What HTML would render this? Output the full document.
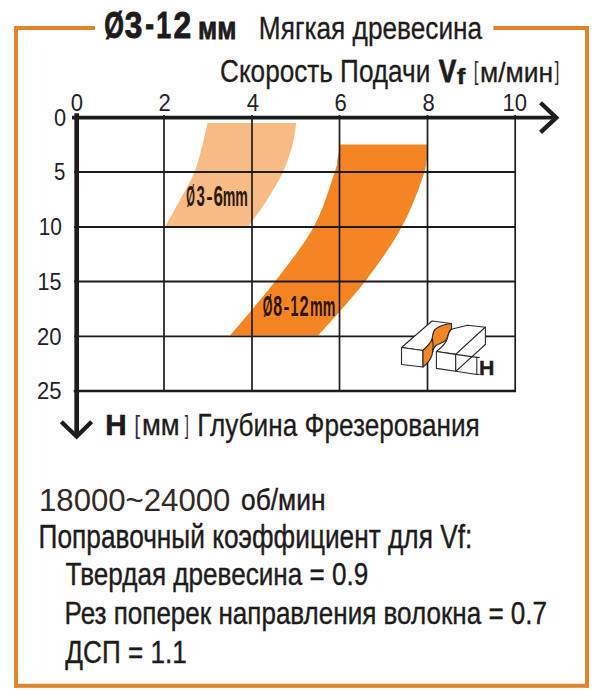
<!DOCTYPE html>
<html><head><meta charset="utf-8"><style>
html,body{margin:0;padding:0;background:#fff;}
svg{display:block;}
text{font-family:"Liberation Sans",sans-serif;}
</style></head><body>
<svg width="600" height="700" viewBox="0 0 600 700">
<rect width="600" height="700" fill="#fff"/>

<g fill="#e4832d">
<rect x="14" y="26" width="81" height="4"/>
<rect x="14" y="26" width="4" height="661.8"/>
<rect x="14" y="683.8" width="575" height="4"/>
<rect x="585" y="26" width="4" height="661.8"/>
<rect x="493.4" y="26" width="95.6" height="4"/>
</g>

<path d="M207.5,123 C206.67,126.67 204.67,136.83 202.50,145.00 C200.33,153.17 198.25,162.83 194.50,172.00 C190.75,181.17 184.83,191.00 180.00,200.00 C175.17,209.00 167.92,221.67 165.50,226.00 L248.75,226 C251.79,221.67 261.29,209.00 267.00,200.00 C272.71,191.00 278.75,181.17 283.00,172.00 C287.25,162.83 290.29,153.17 292.50,145.00 C294.71,136.83 295.62,126.67 296.25,123.00 Z" fill="#f9bb84"/>
<path d="M340.2,144.4 C339.73,147.00 338.30,155.40 337.40,160.00 C336.50,164.60 338.70,160.92 334.80,172.00 C330.90,183.08 323.97,208.25 314.00,226.50 C304.03,244.75 289.00,263.33 275.00,281.50 C261.00,299.67 237.50,326.50 230.00,335.50 L318.3,335.5 C326.08,326.50 351.05,299.67 365.00,281.50 C378.95,263.33 392.10,244.75 402.00,226.50 C411.90,208.25 420.23,185.68 424.40,172.00 C428.57,158.32 426.57,149.00 427.00,144.40 Z" fill="#f58423"/>
<line x1="164" y1="115" x2="164" y2="390.5" stroke="#1e1b1c" stroke-width="1.7"/><line x1="252" y1="115" x2="252" y2="390.5" stroke="#1e1b1c" stroke-width="1.7"/><line x1="339.5" y1="115" x2="339.5" y2="390.5" stroke="#1e1b1c" stroke-width="1.7"/><line x1="427.5" y1="115" x2="427.5" y2="390.5" stroke="#1e1b1c" stroke-width="1.7"/><line x1="515.2" y1="115" x2="515.2" y2="390.5" stroke="#1e1b1c" stroke-width="1.7"/><line x1="74" y1="172" x2="515.9" y2="172" stroke="#1e1b1c" stroke-width="1.8"/><line x1="74" y1="227" x2="515.9" y2="227" stroke="#1e1b1c" stroke-width="1.8"/><line x1="74" y1="281.5" x2="515.9" y2="281.5" stroke="#1e1b1c" stroke-width="1.8"/><line x1="74" y1="336.4" x2="515.9" y2="336.4" stroke="#1e1b1c" stroke-width="1.8"/><line x1="73.7" y1="391" x2="516" y2="391" stroke="#1e1b1c" stroke-width="2.4"/>

<line x1="72" y1="117.7" x2="556" y2="117.7" stroke="#1e1b1c" stroke-width="3.8"/>
<polyline points="540.5,102.8 556.3,117.7 540.5,132.3" fill="none" stroke="#1e1b1c" stroke-width="4.3" stroke-linecap="butt" stroke-linejoin="miter"/>
<line x1="76.7" y1="113.3" x2="76.7" y2="436" stroke="#1e1b1c" stroke-width="4.7"/>
<polyline points="61.3,421.8 76.6,436.6 91.6,421.8" fill="none" stroke="#1e1b1c" stroke-width="4.3" stroke-linecap="butt" stroke-linejoin="miter"/>


<g stroke="#2a2a2a" stroke-width="1.1" stroke-linejoin="round" fill="#fff">
 <!-- left block -->
 <path d="M401.5,347.5 L432,321 L451.5,323.5 L423,350.5 Z"/>
 <path d="M401.5,347.5 L423,350.5 L423,367 L401.5,364.5 Z"/>
 <path fill="#f58423" d="M451.5,323.5 C446,324 439,326 435,329.5 C432.5,332 432.8,336 432,339 C431,343 427,346.5 423,350.5 L423,367 C427,364 430.5,360 432,355 C433,351 433,348 436,345.5 C440,343 445,342.5 447,338.5 C448.5,335 448.5,331 451.5,328.5 Z"/>
 <path fill="none" d="M432.3,338 C433.5,343 433.3,348 432.5,352"/>
 <!-- right block -->
 <path d="M436.4,351.5 C441,348 446,344 447.5,338 C448.5,334 448.7,331 452.3,329 L467.5,325.3 L485.4,327.2 L455.7,354.4 Z"/>
 <path d="M436.4,351.5 L455.7,354.4 L455.7,371.3 L436.4,368.4 Z"/>
 <path d="M455.7,354.4 L485.4,327.2 L485.4,344.5 L455.7,371.3 Z"/>
 <path fill="none" d="M455.7,354.4 L477,357.4 M455.7,371.3 L477,374.5 M476.8,357.4 L476.8,374.5 M475.8,357.4 L479.6,357.4 M475.8,374.5 L479.6,374.5"/>
</g>

<text x="104.14" y="37.80" font-size="36" font-weight="bold" fill="#1e1b1c" stroke="#1e1b1c" stroke-width="0.9" textLength="19.67" lengthAdjust="spacingAndGlyphs">Ø</text>
<text x="124.82" y="37.80" font-size="36" font-weight="bold" fill="#1e1b1c" stroke="#1e1b1c" stroke-width="0.9" textLength="17.58" lengthAdjust="spacingAndGlyphs">3</text>
<text x="145.19" y="35.90" font-size="36" font-weight="bold" fill="#1e1b1c" stroke="#1e1b1c" stroke-width="0.9" textLength="8.79" lengthAdjust="spacingAndGlyphs">-</text>
<text x="156.34" y="37.80" font-size="36" font-weight="bold" fill="#1e1b1c" stroke="#1e1b1c" stroke-width="0.9" textLength="14.91" lengthAdjust="spacingAndGlyphs">1</text>
<text x="173.49" y="37.80" font-size="36" font-weight="bold" fill="#1e1b1c" stroke="#1e1b1c" stroke-width="0.9" textLength="17.71" lengthAdjust="spacingAndGlyphs">2</text>
<text x="198.09" y="38.80" font-size="32" font-weight="bold" fill="#1e1b1c" stroke="#1e1b1c" stroke-width="0.8" textLength="38.31" lengthAdjust="spacingAndGlyphs">мм</text>
<text x="258.85" y="38.50" font-size="31" fill="#1e1b1c" stroke="#1e1b1c" stroke-width="0.3" textLength="223.28" lengthAdjust="spacingAndGlyphs">Мягкая древесина</text>
<text x="220.04" y="82.00" font-size="31" fill="#1e1b1c" stroke="#1e1b1c" stroke-width="0.3" textLength="210.24" lengthAdjust="spacingAndGlyphs">Скорость Подачи</text>
<text x="438.74" y="81.80" font-size="31" font-weight="bold" fill="#1e1b1c" stroke="#1e1b1c" stroke-width="0.8" textLength="17.45" lengthAdjust="spacingAndGlyphs">V</text>
<text x="456.88" y="84.30" font-size="22" font-weight="bold" fill="#1e1b1c" stroke="#1e1b1c" stroke-width="0.4" textLength="8.60" lengthAdjust="spacingAndGlyphs">f</text>
<text x="473.84" y="80.40" font-size="25.6" fill="#34303a" textLength="4.59" lengthAdjust="spacingAndGlyphs">[</text>
<text x="479.99" y="81.70" font-size="27" fill="#1e1b1c" stroke="#1e1b1c" stroke-width="0.3" textLength="73.24" lengthAdjust="spacingAndGlyphs">м/мин</text>
<text x="554.84" y="80.40" font-size="25.6" fill="#34303a" textLength="4.59" lengthAdjust="spacingAndGlyphs">]</text>
<text x="70.83" y="110.90" font-size="23.2" fill="#231f2a" textLength="12.26" lengthAdjust="spacingAndGlyphs">0</text>
<text x="158.43" y="110.90" font-size="23.2" fill="#231f2a" textLength="12.26" lengthAdjust="spacingAndGlyphs">2</text>
<text x="246.74" y="110.90" font-size="23.2" fill="#231f2a" textLength="12.26" lengthAdjust="spacingAndGlyphs">4</text>
<text x="334.53" y="110.90" font-size="23.2" fill="#231f2a" textLength="12.26" lengthAdjust="spacingAndGlyphs">6</text>
<text x="422.44" y="110.90" font-size="23.2" fill="#231f2a" textLength="12.26" lengthAdjust="spacingAndGlyphs">8</text>
<text x="502.53" y="110.90" font-size="23.2" fill="#231f2a" textLength="24.52" lengthAdjust="spacingAndGlyphs">10</text>
<text x="53.93" y="125.80" font-size="23.2" fill="#231f2a" textLength="12.11" lengthAdjust="spacingAndGlyphs">0</text>
<text x="54.08" y="179.80" font-size="23.2" fill="#231f2a" textLength="11.36" lengthAdjust="spacingAndGlyphs">5</text>
<text x="38.63" y="235.00" font-size="23.2" fill="#231f2a" textLength="23.26" lengthAdjust="spacingAndGlyphs">10</text>
<text x="37.57" y="289.80" font-size="23.2" fill="#231f2a" textLength="24.04" lengthAdjust="spacingAndGlyphs">15</text>
<text x="37.10" y="345.40" font-size="23.2" fill="#231f2a" textLength="24.54" lengthAdjust="spacingAndGlyphs">20</text>
<text x="37.10" y="399.00" font-size="23.2" fill="#231f2a" textLength="24.54" lengthAdjust="spacingAndGlyphs">25</text>
<text x="105.22" y="435.00" font-size="29" font-weight="bold" fill="#1e1b1c" stroke="#1e1b1c" stroke-width="0.6" textLength="21.42" lengthAdjust="spacingAndGlyphs">H</text>
<text x="134.33" y="434.00" font-size="24.9" fill="#3b2f45" textLength="5.84" lengthAdjust="spacingAndGlyphs">[</text>
<text x="141.93" y="435.00" font-size="29" fill="#1e1b1c" stroke="#1e1b1c" stroke-width="0.3" textLength="37.70" lengthAdjust="spacingAndGlyphs">мм</text>
<text x="184.85" y="434.00" font-size="24.9" fill="#3b2f45" textLength="4.17" lengthAdjust="spacingAndGlyphs">]</text>
<text x="197.26" y="435.80" font-size="32" fill="#1e1b1c" stroke="#1e1b1c" stroke-width="0.3" textLength="282.49" lengthAdjust="spacingAndGlyphs">Глубина Фрезерования</text>
<text x="39.01" y="510.50" font-size="32" fill="#322a2a" textLength="191.40" lengthAdjust="spacingAndGlyphs">18000~24000</text>
<text x="241.05" y="510.00" font-size="29" fill="#1e1b1c" stroke="#1e1b1c" stroke-width="0.4" textLength="84.47" lengthAdjust="spacingAndGlyphs">об/мин</text>
<text x="38.60" y="548.00" font-size="32.5" fill="#1e1b1c" stroke="#1e1b1c" stroke-width="0.4" textLength="433.70" lengthAdjust="spacingAndGlyphs">Поправочный коэффициент для Vf:</text>
<text x="65.38" y="584.50" font-size="32" fill="#1e1b1c" stroke="#1e1b1c" stroke-width="0.4" textLength="302.87" lengthAdjust="spacingAndGlyphs">Твердая древесина = 0.9</text>
<text x="64.42" y="623.70" font-size="31.5" fill="#1e1b1c" stroke="#1e1b1c" stroke-width="0.4" textLength="482.62" lengthAdjust="spacingAndGlyphs">Рез поперек направления волокна = 0.7</text>
<text x="65.34" y="663.20" font-size="31.5" fill="#1e1b1c" stroke="#1e1b1c" stroke-width="0.4" textLength="121.41" lengthAdjust="spacingAndGlyphs">ДСП = 1.1</text>
<text x="186.25" y="206.20" font-size="30" font-weight="bold" fill="#2b1a10" textLength="8.67" lengthAdjust="spacingAndGlyphs">Ø</text>
<text x="196.60" y="206.20" font-size="30" font-weight="bold" fill="#2b1a10" textLength="8.34" lengthAdjust="spacingAndGlyphs">3</text>
<text x="206.33" y="204.80" font-size="24.0" font-weight="bold" fill="#2b1a10" textLength="6.40" lengthAdjust="spacingAndGlyphs">-</text>
<text x="213.52" y="206.20" font-size="30" font-weight="bold" fill="#2b1a10" textLength="9.50" lengthAdjust="spacingAndGlyphs">6</text>
<text x="222.71" y="206.20" font-size="28" font-weight="bold" fill="#2b1a10" textLength="25.22" lengthAdjust="spacingAndGlyphs">mm</text>
<text x="262.80" y="316.30" font-size="30" font-weight="bold" fill="#2a1508" textLength="9.67" lengthAdjust="spacingAndGlyphs">Ø</text>
<text x="273.22" y="316.30" font-size="30" font-weight="bold" fill="#2a1508" textLength="8.90" lengthAdjust="spacingAndGlyphs">8</text>
<text x="283.60" y="315.10" font-size="24.0" font-weight="bold" fill="#2a1508" textLength="5.86" lengthAdjust="spacingAndGlyphs">-</text>
<text x="290.44" y="316.30" font-size="30" font-weight="bold" fill="#2a1508" textLength="7.93" lengthAdjust="spacingAndGlyphs">1</text>
<text x="299.50" y="316.30" font-size="30" font-weight="bold" fill="#2a1508" textLength="9.20" lengthAdjust="spacingAndGlyphs">2</text>
<text x="310.00" y="316.30" font-size="27.5" font-weight="bold" fill="#2a1508" textLength="25.33" lengthAdjust="spacingAndGlyphs">mm</text>
<text x="478.96" y="374.60" font-size="21" font-weight="bold" fill="#1e1b1c" stroke="#1e1b1c" stroke-width="0.4" textLength="15.38" lengthAdjust="spacingAndGlyphs">H</text>
</svg>
</body></html>
